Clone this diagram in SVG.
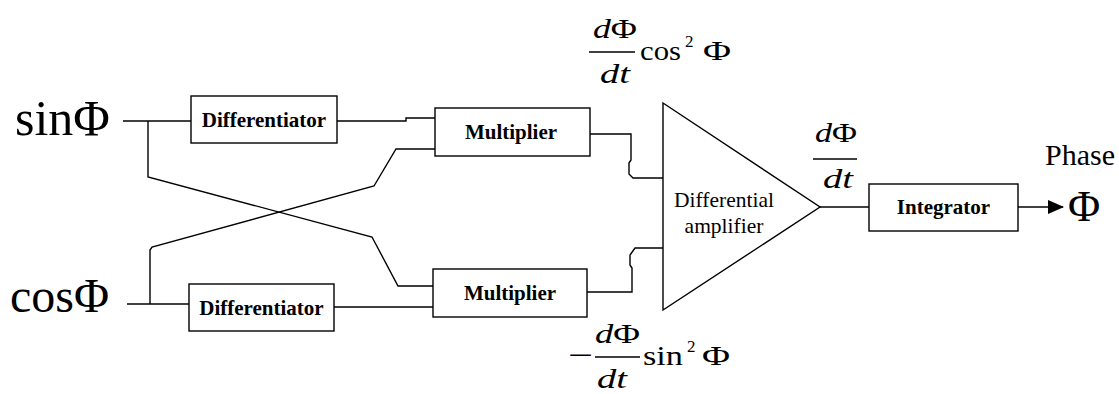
<svg xmlns="http://www.w3.org/2000/svg" width="1119" height="394" viewBox="0 0 1119 394">
<style>
.box{fill:#fff;stroke:#000;stroke-width:1.4}
.wire{fill:none;stroke:#000;stroke-width:1.4}
.lbl{font-family:"Liberation Serif","Times New Roman",serif;font-weight:bold;font-size:21px;fill:#000}
.big{font-family:"Liberation Serif","Times New Roman",serif;fill:#000}
.math{font-family:"Liberation Serif","Times New Roman",serif;font-size:27px;fill:#000}
.sup{font-family:"Liberation Serif","Times New Roman",serif;font-size:17px;fill:#000}
.it{font-style:italic}
</style>
<defs>
<marker id="arr" markerWidth="16" markerHeight="14" refX="15" refY="7" orient="auto" markerUnits="userSpaceOnUse">
<polygon points="0,0 16,7 0,14" fill="#000"/>
</marker>
</defs>
<rect width="1119" height="394" fill="#fff"/>

<g id="inputs">
<text class="big" x="15" y="135" font-size="50">sinΦ</text>
<text class="big" x="10" y="312" font-size="48">cosΦ</text>
</g>

<g id="connectors">
<polyline class="wire" points="123,121 191,121"/>
<polyline class="wire" points="148,121 148,177 372,237 398,286 435,286"/>
<polyline class="wire" points="337,121 406,121 406,118 435,118"/>
<polyline class="wire" points="435,149 396,149 374,186 152,247 150,250 150,304"/>
<polyline class="wire" points="127,304 189,304"/>
<polyline class="wire" points="334,307 433,307"/>
<polyline class="wire" points="590,134 631,134 631,160 629,163 629,174 633,178 663,178"/>
<polyline class="wire" points="587,292 632,292 632,268 630,265 630,255 635,248 663,248"/>
<polyline class="wire" points="820,207 869,207"/>
<line class="wire" x1="1018" y1="207" x2="1063" y2="207" marker-end="url(#arr)"/>
</g>

<g id="diff1">
<rect class="box" x="191" y="96" width="146" height="47"/>
<text class="lbl" x="264" y="127" text-anchor="middle">Differentiator</text>
</g>
<g id="diff2">
<rect class="box" x="189" y="284" width="145" height="47"/>
<text class="lbl" x="261.5" y="315" text-anchor="middle">Differentiator</text>
</g>
<g id="mult1">
<rect class="box" x="435" y="108" width="155" height="48"/>
<text class="lbl" x="511" y="139" text-anchor="middle">Multiplier</text>
</g>
<g id="mult2">
<rect class="box" x="433" y="269" width="154" height="48"/>
<text class="lbl" x="510" y="300" text-anchor="middle">Multiplier</text>
</g>
<g id="amp">
<polygon class="box" points="663,103 820,207 663,310"/>
<text class="big" x="724" y="207" font-size="21.5" text-anchor="middle" fill="#222">Differential</text>
<text class="big" x="724" y="233" font-size="21.5" text-anchor="middle" fill="#222">amplifier</text>
</g>
<g id="integrator">
<rect class="box" x="869" y="184" width="149" height="47"/>
<text class="lbl" x="943.5" y="214" text-anchor="middle">Integrator</text>
</g>

<g id="output">
<text class="big" x="1045" y="165" font-size="30">Phase</text>
<text class="big" x="1068" y="221" font-size="44">Φ</text>
</g>

<g id="formula-top">
<text class="math" x="593" y="38" textLength="44" lengthAdjust="spacingAndGlyphs"><tspan class="it">d</tspan>Φ</text>
<line class="wire" x1="589" y1="52" x2="635" y2="52"/>
<text class="math it" x="600" y="83" textLength="30" lengthAdjust="spacingAndGlyphs">dt</text>
<text class="math" x="640" y="60" textLength="41" lengthAdjust="spacingAndGlyphs">cos</text>
<text class="sup" x="685" y="47">2</text>
<text class="math" x="703" y="60" textLength="28" lengthAdjust="spacingAndGlyphs">Φ</text>
</g>

<g id="formula-bottom">
<text class="math" x="568" y="364" textLength="25" lengthAdjust="spacingAndGlyphs">−</text>
<text class="math" x="595" y="343" textLength="45" lengthAdjust="spacingAndGlyphs"><tspan class="it">d</tspan>Φ</text>
<line class="wire" x1="595" y1="357" x2="640" y2="357"/>
<text class="math it" x="597" y="388" textLength="30" lengthAdjust="spacingAndGlyphs">dt</text>
<text class="math" x="643" y="365" textLength="40" lengthAdjust="spacingAndGlyphs">sin</text>
<text class="sup" x="687" y="352">2</text>
<text class="math" x="702" y="365" textLength="28" lengthAdjust="spacingAndGlyphs">Φ</text>
</g>

<g id="formula-out">
<text class="math" x="815" y="142" textLength="42" lengthAdjust="spacingAndGlyphs"><tspan class="it">d</tspan>Φ</text>
<line class="wire" x1="813" y1="159" x2="857" y2="159"/>
<text class="math it" x="823" y="188" textLength="30" lengthAdjust="spacingAndGlyphs">dt</text>
</g>
</svg>
